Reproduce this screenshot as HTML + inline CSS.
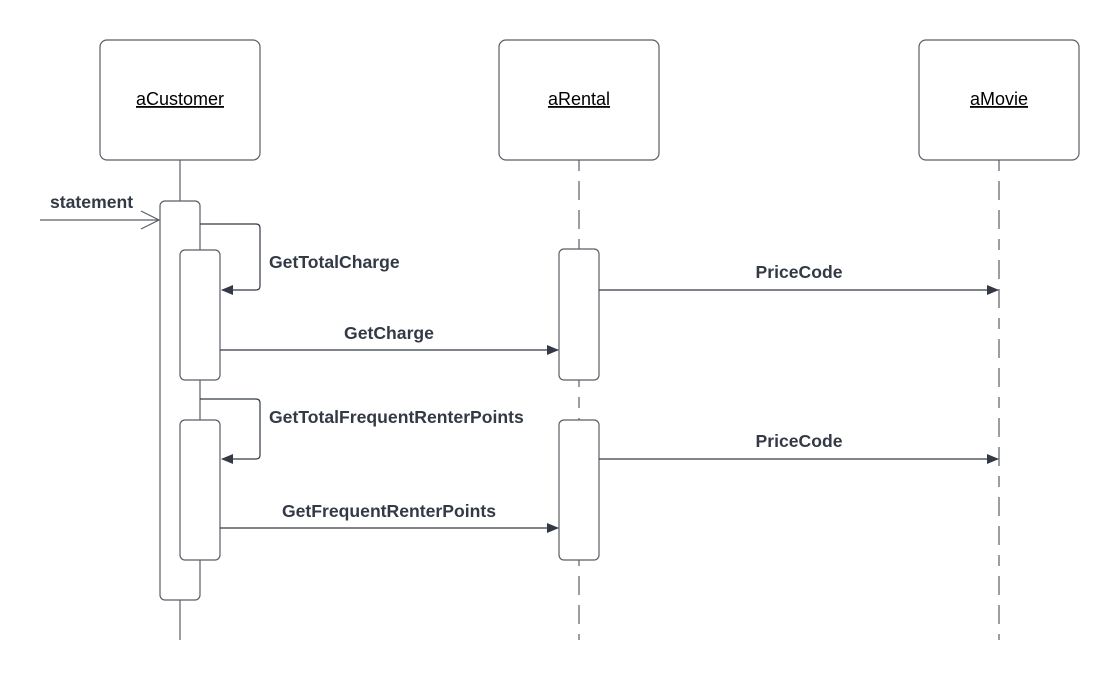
<!DOCTYPE html>
<html><head><meta charset="utf-8"><style>
html,body{margin:0;padding:0;background:#fff;}
svg{display:block;}
.lbl{font-family:"Liberation Sans",sans-serif;font-size:17.6px;font-weight:bold;fill:#333a45;}
.name{font-family:"Liberation Sans",sans-serif;font-size:18px;fill:#000;text-decoration:underline;}
</style></head><body>
<svg width="1119" height="680" viewBox="0 0 1119 680" xmlns="http://www.w3.org/2000/svg">
<defs>
<marker id="a" markerWidth="12" markerHeight="10" refX="11" refY="5" orient="auto" markerUnits="userSpaceOnUse">
<path d="M0,0 L12,5 L0,10 Z" fill="#333a45"/></marker>
</defs>
<g fill="#fff" stroke="#5a5e66" stroke-width="1.2">
<rect x="100" y="40" width="160" height="120" rx="7"/>
<rect x="499" y="40" width="160" height="120" rx="7"/>
<rect x="919" y="40" width="160" height="120" rx="7"/>
</g>
<text class="name" x="180" y="105" text-anchor="middle">aCustomer</text>
<text class="name" x="579" y="105" text-anchor="middle">aRental</text>
<text class="name" x="999" y="105" text-anchor="middle">aMovie</text>
<g stroke="#5a5e66" stroke-width="1.2" fill="none">
<line x1="180" y1="160" x2="180" y2="640"/>
<line x1="579" y1="160" x2="579" y2="640" stroke-dasharray="11 10 19 10 19 10"/>
<line x1="999" y1="160" x2="999" y2="640" stroke-dasharray="11 10 19 10 19 10"/>
</g>
<g fill="#fff" stroke="#5a5e66" stroke-width="1.2">
<rect x="160" y="201" width="40" height="399" rx="5"/>
<rect x="180" y="250" width="40" height="130" rx="5"/>
<rect x="180" y="420" width="40" height="140" rx="5"/>
<rect x="559" y="249" width="40" height="131" rx="5"/>
<rect x="559" y="420" width="40" height="140" rx="5"/>
</g>
<g stroke="#5a5e66" stroke-width="1.2" fill="none">
<line x1="40" y1="220" x2="159" y2="220"/>
<polyline points="141,211 159,220 141,229"/>
</g>
<g stroke="#333a45" stroke-width="1.2" fill="none">
<path d="M200,224 H256 Q260,224 260,228 V286 Q260,290 256,290 H222" marker-end="url(#a)"/>
<path d="M200,399 H256 Q260,399 260,403 V455 Q260,459 256,459 H222" marker-end="url(#a)"/>
<line x1="220" y1="350" x2="558" y2="350" marker-end="url(#a)"/>
<line x1="220" y1="528" x2="558" y2="528" marker-end="url(#a)"/>
<line x1="599" y1="290" x2="998" y2="290" marker-end="url(#a)"/>
<line x1="599" y1="459" x2="998" y2="459" marker-end="url(#a)"/>
</g>
<text class="lbl" x="50" y="208">statement</text>
<text class="lbl" x="269" y="268">GetTotalCharge</text>
<text class="lbl" x="389" y="339" text-anchor="middle">GetCharge</text>
<text class="lbl" x="269" y="423">GetTotalFrequentRenterPoints</text>
<text class="lbl" x="389" y="517" text-anchor="middle">GetFrequentRenterPoints</text>
<text class="lbl" x="799" y="278" text-anchor="middle">PriceCode</text>
<text class="lbl" x="799" y="447" text-anchor="middle">PriceCode</text>
</svg>
</body></html>
